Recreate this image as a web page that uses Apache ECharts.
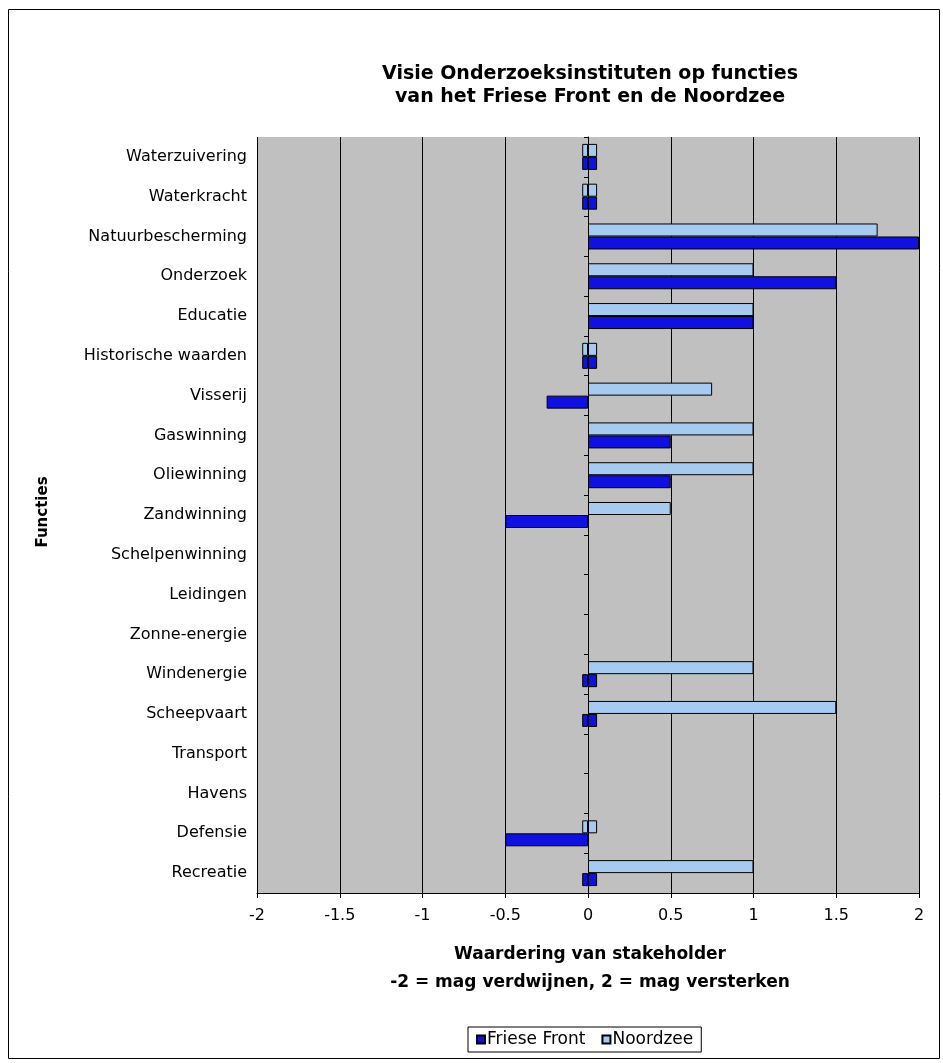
<!DOCTYPE html>
<html>
<head>
<meta charset="utf-8">
<script src="https://cdn.jsdelivr.net/npm/echarts@6/dist/echarts.min.js"></script>
<style>
html,body{margin:0;padding:0;background:#fff;}
#chart{width:943px;height:1063px;}
</style>
</head>
<body>
<div id="chart"></div>
<script>
const categories = ['Waterzuivering','Waterkracht','Natuurbescherming','Onderzoek','Educatie','Historische waarden','Visserij','Gaswinning','Oliewinning','Zandwinning','Schelpenwinning','Leidingen','Zonne-energie','Windenergie','Scheepvaart','Transport','Havens','Defensie','Recreatie'];
const friesFront = [0, 0, 2, 1.5, 1, 0, -0.25, 0.5, 0.5, -0.5, null, null, null, 0, 0, null, null, -0.5, 0];
const noordzee   = [0, 0, 1.75, 1, 1, 0, 0.75, 1, 1, 0.5, null, null, null, 1, 1.5, null, null, 0, 1];
const seriesNames = ['Friese Front', 'Noordzee'];
const titleLines = ['Visie Onderzoeksinstituten op functies', 'van het Friese Front en de Noordzee'];
const xNameLines = ['Waardering van stakeholder', '-2 = mag verdwijnen, 2 = mag versterken'];
const yName = 'Functies';

// zero values drawn as Excel-like small box straddling the axis
const ZERO_NEG = -0.035, ZERO_POS = 0.055;
function negPart(a){ return a.map(v => v == null ? null : (v < 0 ? v : (v === 0 ? ZERO_NEG : null))); }
function posPart(a){ return a.map(v => v == null ? null : (v > 0 ? v : (v === 0 ? ZERO_POS : null))); }

const FONT = 'DejaVu Sans';
const darkBlue = '#1010e0', lightBlue = '#a6caf0';

function barSeries(name, data, stack, color){
  return {
    name: name, type: 'bar', stack: stack, data: data, yAxisIndex: 0,
    barWidth: 13, barGap: '0%',
    itemStyle: { color: color, borderColor: '#000', borderWidth: 1 },
    emphasis: { disabled: true }, animation: false
  };
}

const chart = echarts.init(document.getElementById('chart'), null, {renderer: 'canvas'});
chart.setOption({
  animation: false,
  grid: { left: 257, right: 24, top: 137, height: 756, show: true, backgroundColor: '#c0c0c0', borderWidth: 0 },
  legend: {
    data: seriesNames, left: 468, top: 1027, orient: 'horizontal',
    borderColor: '#000', borderWidth: 1, padding: [4, 8, 4, 8],
    itemWidth: 8, itemHeight: 8, itemGap: 16, icon: 'rect',
    textStyle: { fontFamily: FONT, fontSize: 17, color: '#000', padding: [0, 0, 0, -3] }
  },
  xAxis: {
    type: 'value', min: -2, max: 2, interval: 0.5,
    axisLine: { show: true, onZero: false, lineStyle: { color: '#000', width: 1 } },
    axisTick: { show: true, length: 5, lineStyle: { color: '#000' } },
    axisLabel: { fontFamily: FONT, fontSize: 16, color: '#000', margin: 15 },
    splitLine: { show: true, lineStyle: { color: '#000', width: 1 } }
  },
  yAxis: [
    {
      type: 'category', data: categories, inverse: true, position: 'left',
      axisLine: { show: false, onZero: false }, axisTick: { show: false },
      axisLabel: { fontFamily: FONT, fontSize: 16, color: '#000', margin: 10 }
    },
    {
      type: 'category', data: categories, inverse: true, position: 'left',
      axisLine: { show: true, onZero: true, onZeroAxisIndex: 0, lineStyle: { color: '#000', width: 1 } },
      axisTick: { show: true, length: 4, lineStyle: { color: '#000' } },
      axisLabel: { show: false }
    }
  ],
  series: [
    barSeries(seriesNames[1], negPart(noordzee), 'nz', lightBlue),
    barSeries(seriesNames[1], posPart(noordzee), 'nz', lightBlue),
    barSeries(seriesNames[0], negPart(friesFront), 'ff', darkBlue),
    barSeries(seriesNames[0], posPart(friesFront), 'ff', darkBlue)
  ],
  graphic: [
    { type: 'rect', shape: { x: 8.5, y: 9.5, width: 931, height: 1049 }, style: { fill: null, stroke: '#000', lineWidth: 1 }, silent: true, z: 100 },
    { type: 'text', x: 590, y: 74, style: { text: titleLines[0], fontFamily: FONT, fontWeight: 'bold', fontSize: 19, fill: '#000', align: 'center', verticalAlign: 'middle' } },
    { type: 'text', x: 590, y: 97, style: { text: titleLines[1], fontFamily: FONT, fontWeight: 'bold', fontSize: 19, fill: '#000', align: 'center', verticalAlign: 'middle' } },
    { type: 'text', x: 590, y: 955, style: { text: xNameLines[0], fontFamily: FONT, fontWeight: 'bold', fontSize: 17, fill: '#000', align: 'center', verticalAlign: 'middle' } },
    { type: 'text', x: 590, y: 983, style: { text: xNameLines[1], fontFamily: FONT, fontWeight: 'bold', fontSize: 17, fill: '#000', align: 'center', verticalAlign: 'middle' } },
    { type: 'text', x: 43, y: 512, rotation: Math.PI / 2, style: { text: yName, fontFamily: FONT, fontWeight: 'bold', fontSize: 15, fill: '#000', align: 'center', verticalAlign: 'middle' } }
  ]
});
</script>
</body>
</html>
